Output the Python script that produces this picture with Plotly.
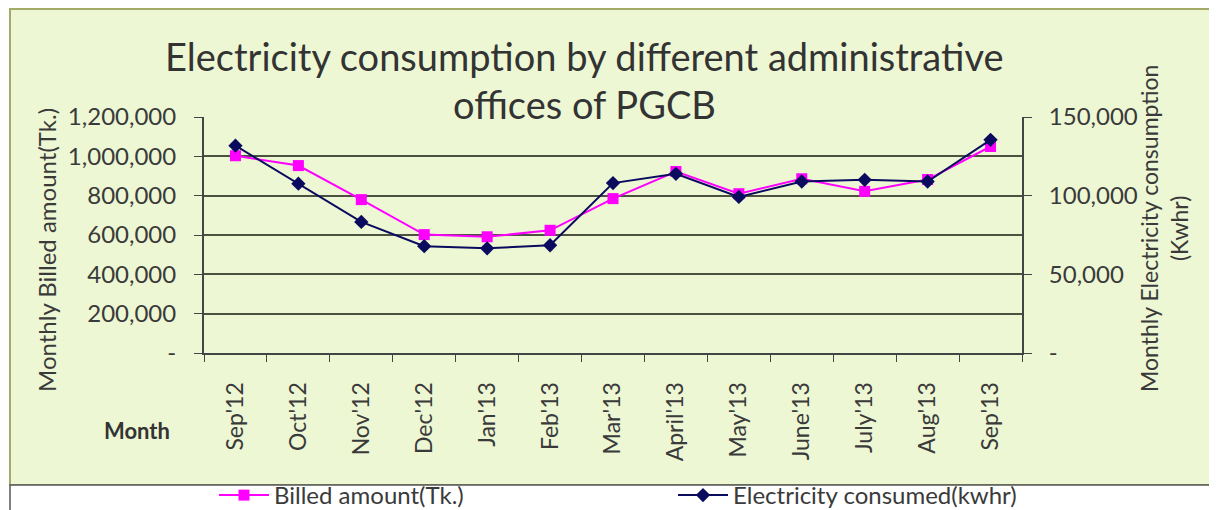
import plotly.graph_objects as go

months = ["Sep'12", "Oct'12", "Nov'12", "Dec'12", "Jan'13", "Feb'13", "Mar'13",
          "April'13", "May'13", "June'13", "July'13", "Aug'13", "Sep'13"]
billed = [1003000, 953000, 780000, 602000, 591000, 624000, 785000,
          923000, 810000, 886000, 822000, 882000, 1050000]
kwhr = [131800, 107600, 83300, 67900, 66500, 68500, 108000,
        113900, 99200, 109000, 110100, 109000, 135500]

left_vals = [0, 200000, 400000, 600000, 800000, 1000000, 1200000]
left_text = ["-", "200,000", "400,000", "600,000", "800,000", "1,000,000", "1,200,000"]
right_vals = [0, 50000, 100000, 150000]
right_text = ["-", "50,000", "100,000", "150,000"]

# page body has an 8px margin, so the figure starts at screen (8, 8);
# the figure runs 8px past the right and bottom of the window (cropped there)
OFF = 8
W, H = 1217, 510
FIG_R, FIG_B = OFF + W, OFF + H          # screen right / bottom of the figure
# plot area in screen pixels; the paper region runs down to the figure bottom
L, R, T, B = 204, 1022, 117, 353
PW = R - L
PAPER_H = FIG_B - T


def px(x):
    return (x - L) / PW


def py(y):
    return (FIG_B - y) / PAPER_H


FONT = "Lato"
TXT = "#3a3a3a"
GREEN = "#EDF7D4"
DOMAIN = [py(B), 1]

fig = go.Figure()
fig.add_trace(go.Scatter(
    x=months, y=billed, name="Billed amount(Tk.)", mode="lines+markers",
    line=dict(color="#FF00FF", width=2),
    marker=dict(symbol="square", size=11, color="#FF00FF"),
    yaxis="y", legend="legend"))
fig.add_trace(go.Scatter(
    x=months, y=kwhr, name="Electricity consumed(kwhr)", mode="lines+markers",
    line=dict(color="#0A0A5E", width=2),
    marker=dict(symbol="diamond", size=11, color="#0A0A5E"),
    yaxis="y2", legend="legend2"))

shapes = [
    dict(type="rect", xref="paper", yref="paper",
         x0=px(10), x1=px(1222), y0=py(485), y1=py(9),
         fillcolor=GREEN, line=dict(color="#A3AA6A", width=2), layer="below"),
    dict(type="rect", xref="paper", yref="paper",
         x0=px(10), x1=px(1222), y0=py(520), y1=py(485),
         fillcolor="white", line=dict(color="#555555", width=1.5), layer="below"),
]

annotations = [
    dict(text="Electricity consumption by different administrative", x=px(584), y=py(56),
         xref="paper", yref="paper", showarrow=False, xanchor="center", yanchor="middle",
         font=dict(family=FONT, size=38, color="#333333")),
    dict(text="offices of PGCB", x=px(584), y=py(104),
         xref="paper", yref="paper", showarrow=False, xanchor="center", yanchor="middle",
         font=dict(family=FONT, size=38, color="#333333")),
    dict(text="Monthly Billed amount(Tk.)", x=px(46), y=py(250), textangle=-90,
         xref="paper", yref="paper", showarrow=False, xanchor="center", yanchor="middle",
         font=dict(family=FONT, size=24, color=TXT)),
    dict(text="Monthly Electricity consumption<br>(Kwhr)", x=px(1164), y=py(229), textangle=-90,
         xref="paper", yref="paper", showarrow=False, xanchor="center", yanchor="middle",
         font=dict(family=FONT, size=23, color=TXT)),
    dict(text="<b>Month</b>", x=px(137), y=py(430),
         xref="paper", yref="paper", showarrow=False, xanchor="center", yanchor="middle",
         font=dict(family=FONT, size=22, color="#333333")),
]

legend_common = dict(orientation="h", yanchor="bottom", xanchor="left", y=0,
                     bgcolor="rgba(0,0,0,0)", borderwidth=0,
                     font=dict(family=FONT, size=24, color=TXT), itemwidth=50)

fig.update_layout(
    width=W, height=H,
    margin=dict(l=L - OFF, r=FIG_R - R, t=T - OFF, b=0, pad=0),
    paper_bgcolor="white", plot_bgcolor="rgba(0,0,0,0)",
    font=dict(family=FONT, color=TXT),
    showlegend=True,
    legend=dict(x=px(214), **legend_common),
    legend2=dict(x=px(673), **legend_common),
    xaxis=dict(type="category", tickson="boundaries", ticks="outside", ticklen=7,
               tickcolor="#444444", showline=True, linecolor="#444444", linewidth=2,
               showgrid=False, tickangle=-90, tickfont=dict(family=FONT, size=23, color=TXT),
               ticklabelstandoff=18, range=[-0.5, 12.5], automargin=False),
    yaxis=dict(domain=DOMAIN, range=[0, 1200000], tickvals=left_vals, ticktext=left_text,
               ticks="outside", ticklen=8, tickcolor="#444444",
               showline=True, linecolor="#444444", linewidth=2,
               showgrid=True, gridcolor="#4D5240", gridwidth=1.5,
               tickfont=dict(family=FONT, size=24, color=TXT), ticklabelstandoff=13,
               zeroline=False, automargin=False),
    yaxis2=dict(domain=DOMAIN, range=[0, 150000], tickvals=right_vals, ticktext=right_text,
                overlaying="y", side="right",
                ticks="outside", ticklen=8, tickcolor="#444444",
                showline=True, linecolor="#444444", linewidth=2, showgrid=False,
                tickfont=dict(family=FONT, size=24, color=TXT), ticklabelstandoff=12,
                zeroline=False, automargin=False),
    shapes=shapes,
    annotations=annotations,
)

fig.write_html("out.html")
